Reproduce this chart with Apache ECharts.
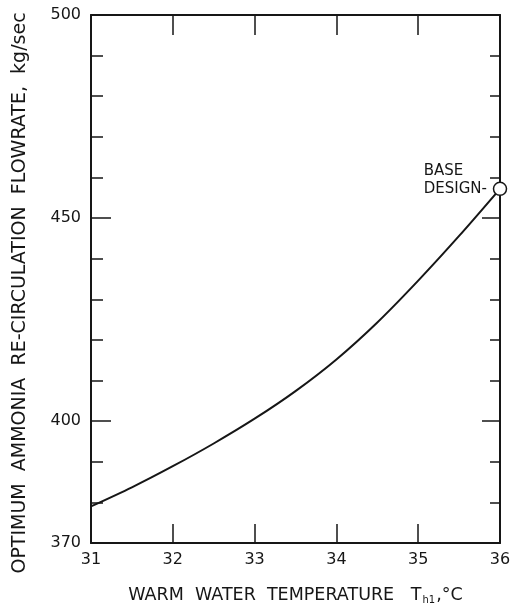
<!DOCTYPE html>
<html>
<head>
<meta charset="utf-8">
<script src="https://cdn.jsdelivr.net/npm/echarts@6/dist/echarts.min.js"></script>
<style>
  html, body { margin: 0; padding: 0; background: #fff; }
  #chart { width: 517px; height: 610px; }
</style>
</head>
<body>
<div id="chart"></div>
<script>
// Warm water temperature (°C)
const temperature = [31, 31.5, 32, 32.5, 33, 33.5, 34, 34.5, 35, 35.5, 36];
// Optimum ammonia re-circulation flowrate (kg/sec)
const flowrate = [379, 383.7, 388.9, 394.5, 400.6, 407.4, 415.2, 424.3, 434.6, 445.6, 457.2];
// Axis tick values
const yLabelValues = [370, 400, 450, 500];
const yMajorTicks = [400, 450];
const yMinorTicks = [380, 390, 410, 420, 430, 440, 460, 470, 480, 490];
const xTicks = [32, 33, 34, 35];
const baseIndex = flowrate.length - 1;

const ink = '#161616';
const font = 'DejaVu Sans';

const chart = echarts.init(document.getElementById('chart'));

const yCommon = {
  type: 'value', min: 370, max: 500, interval: 10,
  splitLine: { show: false }
};
const xCommon = {
  type: 'value', min: 31, max: 36, interval: 1,
  splitLine: { show: false }
};

chart.setOption({
  backgroundColor: '#ffffff',
  animation: false,
  grid: { left: 91, right: 17, top: 15, bottom: 65 },
  xAxis: [
    Object.assign({}, xCommon, {
      position: 'bottom',
      name: '{a|WARM  WATER  TEMPERATURE   T}{s|h1}{a|,°C}',
      nameLocation: 'middle',
      nameGap: 43,
      nameTextStyle: {
        rich: {
          a: { fontFamily: font, fontSize: 17.5, color: ink },
          s: { fontFamily: font, fontSize: 10, color: ink, padding: [9, 1, 0, 1] }
        }
      },
      axisLine: { lineStyle: { color: ink, width: 2 } },
      axisTick: { inside: true, length: 19, customValues: xTicks, lineStyle: { color: ink, width: 1.5 } },
      axisLabel: { fontFamily: font, fontSize: 16, color: ink, margin: 9 }
    }),
    Object.assign({}, xCommon, {
      position: 'top',
      axisLine: { lineStyle: { color: ink, width: 2 } },
      axisTick: { inside: true, length: 20, customValues: xTicks, lineStyle: { color: ink, width: 1.5 } },
      axisLabel: { show: false }
    })
  ],
  yAxis: [
    Object.assign({}, yCommon, {
      position: 'left',
      name: 'OPTIMUM  AMMONIA  RE-CIRCULATION  FLOWRATE,  kg/sec',
      nameLocation: 'middle',
      nameGap: 61,
      nameTextStyle: { fontFamily: font, fontSize: 19, color: ink, padding: [0, 28, 0, 0] },
      axisLine: { lineStyle: { color: ink, width: 2 } },
      axisTick: { inside: true, length: 20, customValues: yMajorTicks, lineStyle: { color: ink, width: 1.5 } },
      axisLabel: { fontFamily: font, fontSize: 16, color: ink, margin: 10, customValues: yLabelValues }
    }),
    Object.assign({}, yCommon, {
      position: 'left',
      axisLine: { show: false },
      axisTick: { inside: true, length: 12, customValues: yMinorTicks, lineStyle: { color: ink, width: 1.5 } },
      axisLabel: { show: false }
    }),
    Object.assign({}, yCommon, {
      position: 'right',
      axisLine: { lineStyle: { color: ink, width: 2 } },
      axisTick: { inside: true, length: 18, customValues: yMajorTicks, lineStyle: { color: ink, width: 1.5 } },
      axisLabel: { show: false }
    }),
    Object.assign({}, yCommon, {
      position: 'right',
      axisLine: { show: false },
      axisTick: { inside: true, length: 10, customValues: yMinorTicks, lineStyle: { color: ink, width: 1.5 } },
      axisLabel: { show: false }
    })
  ],
  series: [
    {
      type: 'line',
      xAxisIndex: 0, yAxisIndex: 0,
      data: temperature.map((t, i) => [t, flowrate[i]]),
      smooth: 0.3,
      showSymbol: false,
      lineStyle: { color: ink, width: 2 },
      z: 3
    },
    {
      type: 'scatter',
      xAxisIndex: 0, yAxisIndex: 0,
      data: [[temperature[baseIndex], flowrate[baseIndex]]],
      symbol: 'circle',
      symbolSize: 13,
      itemStyle: { color: '#ffffff', borderColor: ink, borderWidth: 1.5, opacity: 1 },
      label: {
        show: true,
        position: 'left',
        distance: 1,
        offset: [0, -9],
        formatter: '{t|BASE}\n{t|DESIGN-}',
        rich: {
          t: { fontFamily: font, fontSize: 15, lineHeight: 18, color: ink, width: 68, align: 'left' }
        }
      },
      z: 5
    }
  ]
});
</script>
</body>
</html>
